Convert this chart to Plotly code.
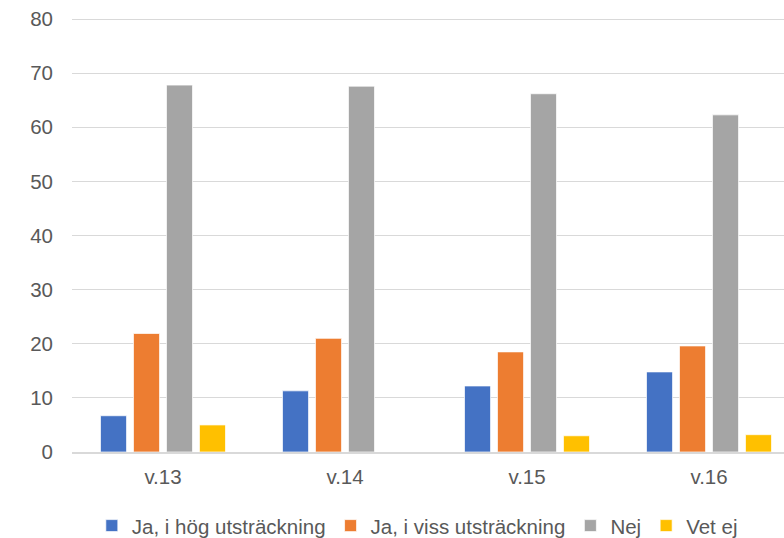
import plotly.graph_objects as go

categories = ["v.13", "v.14", "v.15", "v.16"]
series_names = ["Ja, i hög utsträckning", "Ja, i viss utsträckning", "Nej", "Vet ej"]
ja_hog = [6.7, 11.3, 12.2, 14.8]
ja_viss = [21.9, 21.0, 18.5, 19.6]
nej = [67.8, 67.6, 66.2, 62.3]
vet_ej = [5.0, None, 3.0, 3.2]
y_ticks = [0, 10, 20, 30, 40, 50, 60, 70, 80]

colors = ["#4472C4", "#ED7D31", "#A5A5A5", "#FFC000"]
values = [ja_hog, ja_viss, nej, vet_ej]

fig = go.Figure()
for name, vals, col in zip(series_names, values, colors):
    fig.add_trace(go.Bar(
        x=categories, y=vals, name=name,
        marker=dict(color=col, line=dict(color="rgba(255,255,255,0.7)", width=1)),
    ))

font_family = "Liberation Sans, Arial, sans-serif"
fs = 20.5
fig.update_layout(
    width=784, height=538,
    margin=dict(l=72, r=0, t=18, b=86, autoexpand=False),
    paper_bgcolor="white", plot_bgcolor="white",
    barmode="group", bargap=0.275, bargroupgap=0.21,
    font=dict(family=font_family, size=fs, color="#595959"),
    showlegend=True,
    legend=dict(orientation="h", x=0.485, xanchor="center", y=-0.17, yanchor="middle",
                font=dict(size=fs, color="#595959"), traceorder="normal"),
    xaxis=dict(range=[-0.5, 3.412], showgrid=False, showline=True, linecolor="#D9D9D9",
               linewidth=1.5, ticks="", ticklabelstandoff=6, automargin=False,
               tickfont=dict(size=fs, color="#595959")),
    yaxis=dict(range=[0, 80.2], tickvals=y_ticks, showgrid=True, gridcolor="#D9D9D9", gridwidth=1.2,
               zeroline=False, showline=False, ticks="", ticklabelstandoff=18, automargin=False,
               tickfont=dict(size=fs, color="#595959")),
)

fig.write_html("out.html", config={"displayModeBar": False},
               post_script="document.body.style.margin='0';document.body.style.overflow='hidden';")
